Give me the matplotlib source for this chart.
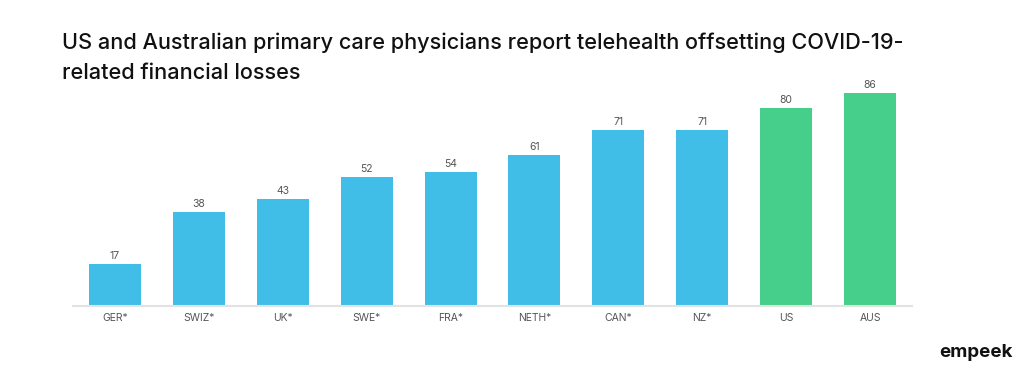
import matplotlib.pyplot as plt

countries = ["GER*", "SWIZ*", "UK*", "SWE*", "FRA*", "NETH*", "CAN*", "NZ*", "US", "AUS"]
values = [17, 38, 43, 52, 54, 61, 71, 71, 80, 86]
bar_colors = ["#41BEE8"] * 8 + ["#45CF8A"] * 2

plt.rcParams["font.family"] = ["Inter", "DejaVu Sans"]

fig = plt.figure(figsize=(10.24, 3.73), dpi=100)
ax = fig.add_axes([0.0713, 0.1796, 0.8193, 0.598])

x = range(len(countries))
bars = ax.bar(x, values, width=0.62, color=bar_colors)
for xi, v in zip(x, values):
    ax.text(xi, v + 1.2, str(v), ha="center", va="bottom", fontsize=7.5, color="#555555")

ax.set_xlim(-0.5, 9.5)
ax.set_ylim(0, 90)
ax.set_xticks(list(x))
ax.set_xticklabels(countries, fontsize=7.5, color="#555555")
ax.tick_params(axis="x", length=0, pad=5)
ax.set_yticks([])
for side in ["top", "right", "left"]:
    ax.spines[side].set_visible(False)
ax.spines["bottom"].set_color("#e2e2e2")
ax.spines["bottom"].set_linewidth(1.5)

fig.text(0.0605, 0.885, "US and Australian primary care physicians report telehealth offsetting COVID-19-",
         fontsize=15.6, fontweight="medium", color="#111111", va="center")
fig.text(0.0605, 0.803, "related financial losses",
         fontsize=15.6, fontweight="medium", color="#111111", va="center")
fig.text(0.989, 0.055, "empeek", fontsize=13.5, fontweight="bold", color="#111111",
         ha="right", va="center")

fig.savefig("out.png", dpi=100)
